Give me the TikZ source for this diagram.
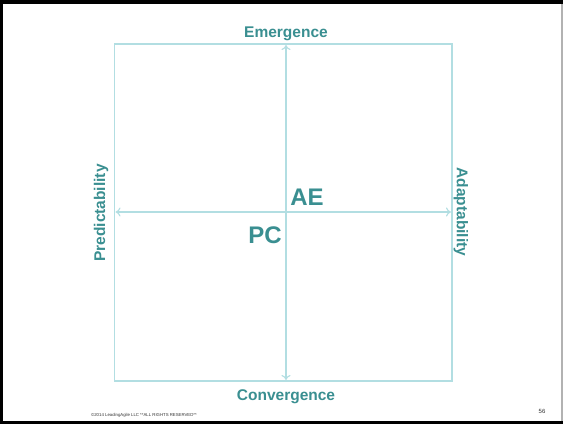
\documentclass[tikz,border=0pt]{standalone}
\usepackage{fontspec}
\setmainfont{Liberation Sans}
\usetikzlibrary{arrows.meta}
\definecolor{teal1}{RGB}{58,143,145}
\definecolor{axis}{RGB}{178,222,226}
\begin{document}
\begin{tikzpicture}[x=1pt,y=-1pt,
  lbl/.style={text=teal1,font=\fontsize{15.5}{17}\selectfont\bfseries,inner sep=0pt},
  big/.style={text=teal1,font=\fontsize{24}{26}\selectfont\bfseries,inner sep=0pt},
  axisline/.style={draw=axis,line width=1.3pt},
  arr/.style={draw=axis,line width=1.1pt,{To[length=5pt,width=9pt]}-{To[length=5pt,width=9pt]}}]
\useasboundingbox (0,0) rectangle (563,424);
\fill[black] (0,0) rectangle (563,424);
\fill[white] (3,4) rectangle (561,421);
\fill[gray!60] (561,4) rectangle (563,421);
% frame box
\draw[axisline] (114.5,44) rectangle (452,381);
% axes
\coordinate (top) at (286,45);
\coordinate (bot) at (286,380);
\coordinate (lft) at (115.5,212);
\coordinate (rgt) at (451,212);
\draw[arr] (bot) -- (top);
\draw[arr] (lft) -- (rgt);
% labels
\node[lbl] (em) at (286,34) {Emergence};
\node[lbl] (cv) at (286,397) {Convergence};
\node[lbl,rotate=90] (pr) at (101,213) {Predictability};
\node[lbl,rotate=-90] (ad) at (461,212) {Adaptability};
\node[big] (ae) at (307,197) {AE};
\node[big] (pc) at (265,235) {PC};
\node[inner sep=0pt,font=\fontsize{4.3}{5}\selectfont,text=black!80] (cr) at (144,415) {©2014 LeadingAgile LLC **ALL RIGHTS RESERVED**};
\node[inner sep=0pt,font=\fontsize{6}{7}\selectfont,text=black!80] (pg) at (542,411) {56};
\end{tikzpicture}
\end{document}
